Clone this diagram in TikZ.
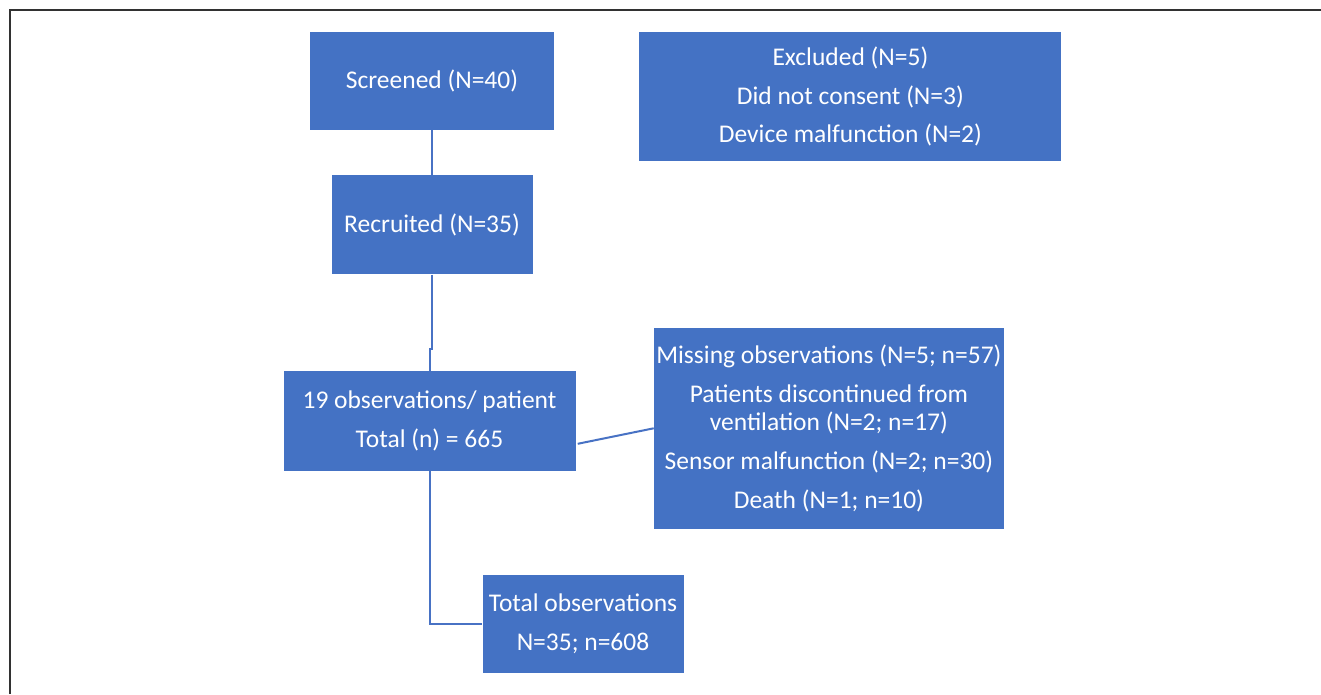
\documentclass[tikz,border=0pt]{standalone}
\usepackage{fontspec}
\setmainfont{Carlito}
\usepackage{tikz}
\usetikzlibrary{positioning}
\definecolor{boxblue}{RGB}{68,114,196}
\definecolor{lineblue}{RGB}{72,114,196}
\definecolor{framegray}{RGB}{50,50,50}
\tikzset{
  box/.style={
    rectangle, fill=boxblue, draw=none, inner sep=0pt,
    text=white, align=center,
    font=\fontsize{25.5}{28}\selectfont
  },
  conn/.style={draw=lineblue, line width=2pt},
  frame/.style={draw=framegray, line width=1.5pt}
}

\begin{document}
\begin{tikzpicture}[x=1pt, y=1pt]
  \useasboundingbox (0,0) rectangle (1321,694);
  \draw[frame] (10,0) -- (10,684) -- (1321,684);

  \node[box, minimum width=244pt, minimum height=98pt] (screen) at (432,613) {Screened (N=40)};
  \node[box, minimum width=422pt, minimum height=129pt,
        right=85pt of screen.north east, anchor=north west] (excl)
        {Excluded (N=5)\\[10.5pt] Did not consent (N=3)\\[10.5pt] Device malfunction (N=2)};
  \node[box, minimum width=201pt, minimum height=99pt, below=45pt of screen] (recr) {Recruited (N=35)};
  \node[box, minimum width=292pt, minimum height=100pt, below=96pt of recr, xshift=-2.5pt] (obs)
        {19 observations/ patient\\[11pt] Total (n) = 665};
  \node[box, minimum width=350pt, minimum height=201pt, right=78pt of obs, yshift=-7.5pt] (miss)
        {Missing observations (N=5; n=57)\\[11pt] Patients discontinued from\\ ventilation (N=2; n=17)\\[11pt]
         Sensor malfunction (N=2; n=30)\\[11pt] Death (N=1; n=10)};
  \node[box, minimum width=201pt, minimum height=98pt, below=104pt of obs, xshift=153.5pt] (total)
        {Total observations\\[11pt] N=35; n=608};

  \draw[conn] (screen) -- (recr);
  \draw[conn] (recr.south) -- ++(0,-74pt) -| (obs.north);
  \draw[conn] ([shift={(2pt,-23pt)}]obs.east) -- (miss.west);
  \draw[conn] (obs.south) |- (total.west);
\end{tikzpicture}
\end{document}
